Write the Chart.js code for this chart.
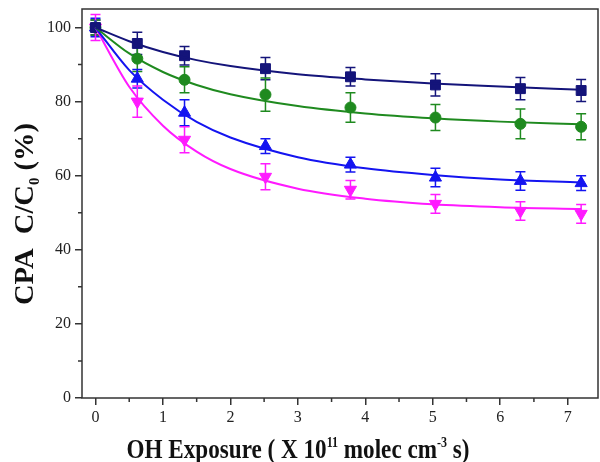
<!DOCTYPE html>
<html>
<head>
<meta charset="utf-8">
<script src="https://cdn.jsdelivr.net/npm/chart.js@4.4.1/dist/chart.umd.min.js"></script>
<style>
  html, body { margin: 0; padding: 0; background: #fff; }
  #wrap { width: 600px; height: 462px; position: relative; }
</style>
</head>
<body>
<div id="wrap"><canvas id="cpaChart"></canvas></div>
<script>
// measured points
const exposure = [0, 0.62, 1.32, 2.52, 3.78, 5.04, 6.3, 7.2];
const squareVals = [100, 95.7, 92.4, 88.9, 86.7, 84.5, 83.5, 83.0];
const squareErr = [2, 3, 2.5, 3, 2.5, 3, 3, 3];
const circleVals = [100, 91.6, 85.9, 81.9, 78.4, 75.7, 74.0, 73.2];
const circleErr = [2, 3.5, 3.5, 4.5, 4, 3.5, 4, 3.5];
const triUpVals = [100, 86.2, 77.0, 68.0, 63.0, 59.5, 58.6, 58.0];
const triUpErr = [2.5, 2.5, 3.5, 2, 2, 2.5, 2.5, 2];
const triDownVals = [100, 80.0, 69.7, 59.7, 56.2, 52.4, 50.5, 49.7];
const triDownErr = [3.5, 4.2, 3.5, 3.5, 2.5, 2.5, 2.5, 2.5];

// fitted curves
const fitX = [0, 0.5, 1, 1.5, 2, 3, 4, 5, 6, 7.2];
const squareFit = [100, 96.3, 93.4, 91.2, 89.6, 87.4, 86.0, 84.9, 84.1, 83.2];
const circleFit = [100, 93.0, 88.0, 84.5, 82.0, 78.8, 76.8, 75.5, 74.6, 73.9];
const triUpFit = [100, 88.5, 80.5, 74.5, 70.3, 65.0, 62.0, 60.2, 59.0, 58.2];
const triDownFit = [100, 84.0, 73.5, 66.5, 61.8, 56.5, 53.8, 52.3, 51.5, 51.0];

const xTicks = [0, 1, 2, 3, 4, 5, 6, 7];
const yTicks = [0, 20, 40, 60, 80, 100];

const NAVY = '#14147a', GREEN = '#1f8a1f', BLUE = '#1414f0', MAGENTA = '#ff1aff';
const SERIF = '"Liberation Serif", "DejaVu Serif", serif';

function pts(xs, ys) { return xs.map((x, i) => ({ x: x, y: ys[i] })); }

function fitSet(vals, color) {
  return {
    data: pts(fitX, vals), showLine: true, borderColor: color, borderWidth: 2,
    pointRadius: 0, cubicInterpolationMode: 'monotone', fill: false
  };
}
function markSet(vals, err, color, style, size, rot) {
  return {
    data: pts(exposure, vals), errors: err, showLine: false,
    backgroundColor: color, borderColor: color, borderWidth: 1,
    pointStyle: style, pointRadius: size, pointRotation: rot || 0
  };
}

// draws a run of [text, font, raise] pieces squeezed to a given width, centred on 0
function drawRun(ctx, parts, targetW) {
  let w = 0;
  parts.forEach(p => { ctx.font = p[1]; w += ctx.measureText(p[0]).width; });
  ctx.scale(targetW / w, 1);
  let x = -w / 2;
  parts.forEach(p => {
    ctx.font = p[1];
    ctx.fillText(p[0], x, p[2]);
    x += ctx.measureText(p[0]).width;
  });
}

// error bars, frame, minor ticks and axis titles
const extras = {
  id: 'extras',
  beforeDatasetsDraw(chart) {
    const ctx = chart.ctx, xs = chart.scales.x, ys = chart.scales.y;
    ctx.save();
    ctx.lineWidth = 1.5;
    chart.data.datasets.forEach(ds => {
      if (!ds.errors) return;
      ctx.strokeStyle = ds.borderColor;
      ds.data.forEach((p, i) => {
        const px = xs.getPixelForValue(p.x);
        const top = ys.getPixelForValue(p.y + ds.errors[i]);
        const bot = ys.getPixelForValue(p.y - ds.errors[i]);
        ctx.beginPath();
        ctx.moveTo(px, top); ctx.lineTo(px, bot);
        ctx.moveTo(px - 5, top); ctx.lineTo(px + 5, top);
        ctx.moveTo(px - 5, bot); ctx.lineTo(px + 5, bot);
        ctx.stroke();
      });
    });
    ctx.restore();
  },
  afterDraw(chart) {
    const ctx = chart.ctx, a = chart.chartArea, xs = chart.scales.x, ys = chart.scales.y;
    ctx.save();
    ctx.strokeStyle = '#333';
    ctx.lineWidth = 1.5;
    ctx.strokeRect(a.left, a.top, a.right - a.left, a.bottom - a.top);
    // minor ticks
    ctx.beginPath();
    for (let v = 0.5; v < 7.4; v += 1) {
      const px = xs.getPixelForValue(v);
      ctx.moveTo(px, a.bottom); ctx.lineTo(px, a.bottom + 4);
    }
    for (let v = 10; v < 105; v += 20) {
      const py = ys.getPixelForValue(v);
      ctx.moveTo(a.left, py); ctx.lineTo(a.left - 4, py);
    }
    ctx.stroke();
    ctx.restore();

    const big = 'bold 27px ' + SERIF, small = 'bold 14px ' + SERIF;
    ctx.fillStyle = '#111';
    ctx.textBaseline = 'alphabetic';

    // x title with superscripts
    ctx.save();
    ctx.translate(298, 458);
    drawRun(ctx, [
      ['OH Exposure ( X 10', big, 0], ['11', small, -11], [' molec cm', big, 0],
      ['-3', small, -11], [' s)', big, 0]
    ], 343);
    ctx.restore();

    // y title, rotated
    ctx.save();
    ctx.translate(33, 214);
    ctx.rotate(-Math.PI / 2);
    drawRun(ctx, [['CPA  C/C', big, 0], ['0', small, 6], [' (%)', big, 0]], 182);
    ctx.restore();
  }
};

new Chart(document.getElementById('cpaChart'), {
  type: 'scatter',
  data: {
    datasets: [
      fitSet(squareFit, NAVY), fitSet(circleFit, GREEN),
      fitSet(triUpFit, BLUE), fitSet(triDownFit, MAGENTA),
      markSet(squareVals, squareErr, NAVY, 'rect', 7),
      markSet(circleVals, circleErr, GREEN, 'circle', 5.5),
      markSet(triUpVals, triUpErr, BLUE, 'triangle', 7),
      markSet(triDownVals, triDownErr, MAGENTA, 'triangle', 7, 180)
    ]
  },
  plugins: [extras],
  options: {
    responsive: true,
    maintainAspectRatio: false,
    animation: false,
    layout: { autoPadding: false, padding: { top: 9, right: 2, left: 0, bottom: 0 } },
    plugins: { legend: { display: false }, tooltip: { enabled: false } },
    scales: {
      x: {
        type: 'linear', min: -0.2, max: 7.45,
        afterBuildTicks: s => { s.ticks = xTicks.map(v => ({ value: v })); },
        afterFit: s => { s.height = 64; s.paddingLeft = 0; s.paddingRight = 0; },
        grid: { drawOnChartArea: false, tickLength: 7, color: '#333', lineWidth: 1.5 },
        border: { display: false },
        ticks: { color: '#222', font: { family: SERIF, size: 16 }, padding: 3, maxRotation: 0 }
      },
      y: {
        type: 'linear', min: 0, max: 105,
        afterBuildTicks: s => { s.ticks = yTicks.map(v => ({ value: v })); },
        afterFit: s => { s.width = 82; s.paddingTop = 0; s.paddingBottom = 0; },
        grid: { drawOnChartArea: false, tickLength: 7, color: '#333', lineWidth: 1.5 },
        border: { display: false },
        ticks: { color: '#222', font: { family: SERIF, size: 16 }, padding: 4 }
      }
    }
  }
});
</script>
</body>
</html>
